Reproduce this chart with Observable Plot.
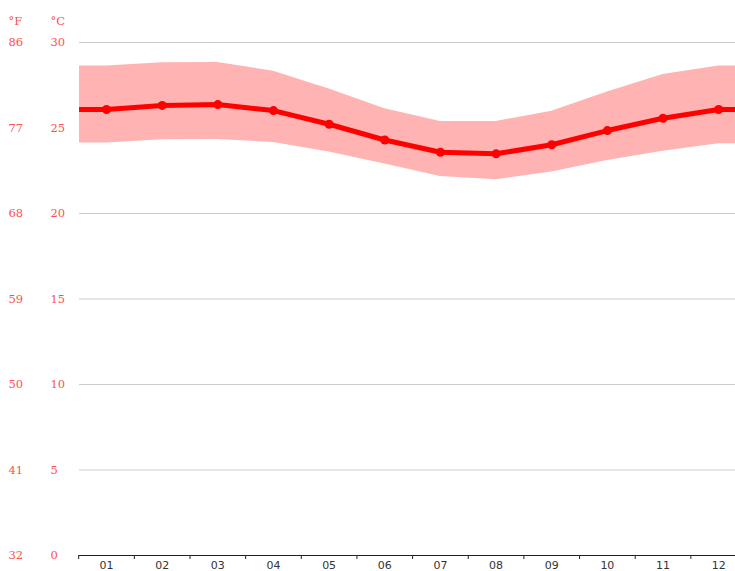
<!DOCTYPE html>
<html>
<head>
<meta charset="utf-8">
<script src="https://cdn.jsdelivr.net/npm/d3@7"></script>
<script src="https://cdn.jsdelivr.net/npm/@observablehq/plot@0.6"></script>
<style>
  html, body { margin: 0; padding: 0; background: #fff; }
  #chart svg { overflow: hidden; display: block; }
</style>
</head>
<body>
<div id="chart"></div>
<script>
const months = ["01", "02", "03", "04", "05", "06", "07", "08", "09", "10", "11", "12"];
const avgC = [26.08, 26.32, 26.37, 26.02, 25.22, 24.30, 23.58, 23.49, 24.02, 24.85, 25.57, 26.08];
const maxC = [28.63, 28.81, 28.83, 28.32, 27.28, 26.12, 25.38, 25.38, 25.98, 27.10, 28.13, 28.63];
const minC = [24.13, 24.31, 24.33, 24.15, 23.60, 22.90, 22.16, 21.97, 22.42, 23.10, 23.64, 24.08];
const cTicks = [0, 5, 10, 15, 20, 25, 30];
const fTicks = [32, 41, 50, 59, 68, 77, 86];

const data = months.map((label, i) => ({m: i + 1, label, avg: avgC[i], max: maxC[i], min: minC[i]}));
// band and line continue flat to the edges of the plot, as in the reference
const padded = [{...data[0], m: 0.5}, ...data, {...data[data.length - 1], m: 12.5}];
const boundaries = d3.range(0.5, 12, 1);

const red = "#ff0000";
const labelRed = "#ff5050";
const serif = "DejaVu Serif, serif";

const chart = Plot.plot({
  width: 735,
  height: 571,
  marginLeft: 79,
  marginRight: 0,
  marginTop: 42,
  marginBottom: 16,
  style: {fontFamily: "DejaVu Sans, sans-serif", background: "#fff"},
  x: {type: "linear", domain: [0.5, 12.5], range: [78.2, 746]},
  y: {domain: [0, 30]},
  marks: [
    Plot.gridY(cTicks.filter(t => t > 0), {stroke: "#cccccc", strokeOpacity: 1}),
    Plot.areaY(padded, {x: "m", y1: "min", y2: "max", fill: "#ffb3b3", fillOpacity: 1, clip: true}),
    Plot.lineY(padded, {x: "m", y: "avg", stroke: red, strokeWidth: 5, clip: true}),
    Plot.dot(data, {x: "m", y: "avg", fill: red, r: 4.5, clip: true}),
    Plot.ruleY([0], {stroke: "#222", strokeWidth: 1}),
    Plot.axisX({ticks: boundaries, tickSize: 4, tickFormat: () => "", stroke: "#222", strokeOpacity: 1, label: null}),
    Plot.axisX({ticks: data.map(d => d.m), tickSize: 0, tickPadding: 6, tickFormat: m => months[m - 1],
      fontSize: 11, fill: "#333", label: null}),
    Plot.axisY({ticks: cTicks, tickSize: 0, tickPadding: 0, textAnchor: "start", dx: -29,
      tickFormat: d => String(d), fill: labelRed, fontSize: 11.5, fontFamily: serif, label: null}),
    Plot.axisY({ticks: cTicks, tickSize: 0, tickPadding: 0, textAnchor: "start", dx: -71,
      tickFormat: (d, i) => String(fTicks[i]), fill: labelRed, fontSize: 11.5, fontFamily: serif, label: null}),
    Plot.text(["°C"], {frameAnchor: "top-left", dx: -29, dy: -26, textAnchor: "start", fill: labelRed,
      fontSize: 11.5, fontFamily: serif}),
    Plot.text(["°F"], {frameAnchor: "top-left", dx: -71, dy: -26, textAnchor: "start", fill: labelRed,
      fontSize: 11.5, fontFamily: serif})
  ]
});
document.getElementById("chart").append(chart);
</script>
</body>
</html>
